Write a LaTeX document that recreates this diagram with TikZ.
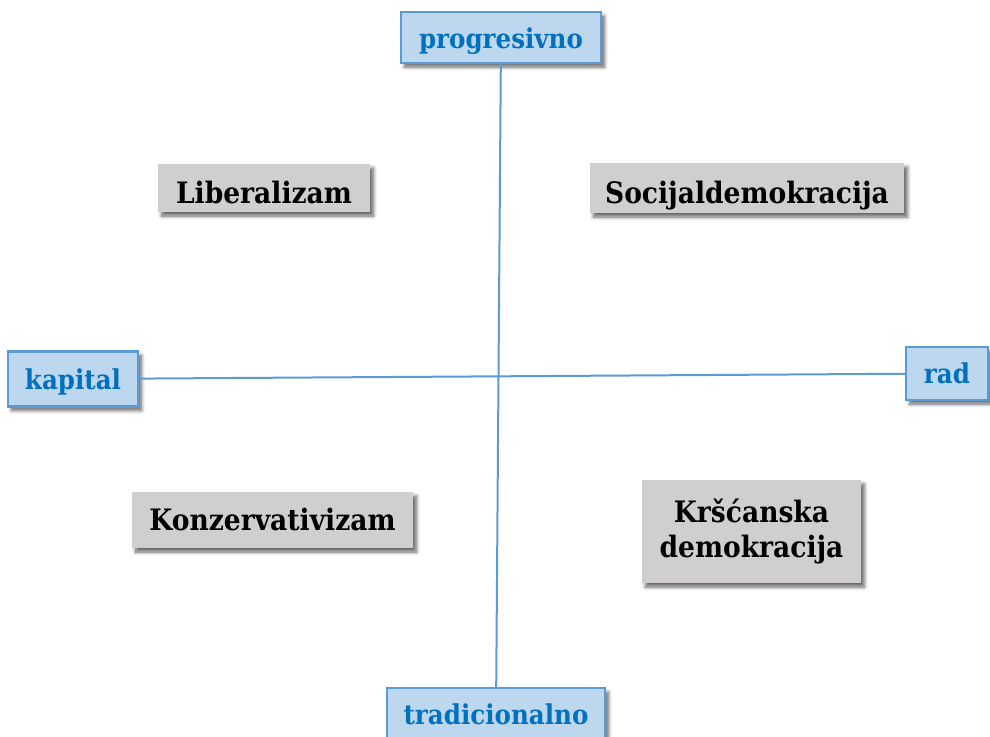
\documentclass[tikz,border=0pt]{standalone}
\usepackage{fontspec}
\setmainfont{DejaVu Serif Condensed}
\usetikzlibrary{shadows.blur}
\definecolor{axisblue}{HTML}{5B9BD5}
\definecolor{boxblue}{HTML}{BDD7EE}
\definecolor{textblue}{HTML}{0070C0}
\definecolor{boxgray}{HTML}{D0CECE}
\tikzset{
  myshadow/.style={blur shadow={shadow xshift=3.5pt, shadow yshift=-4pt, shadow blur radius=3.5pt, shadow blur steps=8, shadow opacity=60}},
  axisbox/.style={draw=axisblue, line width=2.2pt, fill=boxblue, text=textblue,
    font=\fontsize{27.3}{32}\selectfont\bfseries, inner sep=0pt, outer sep=0pt,
    text height=21pt, text depth=0pt, myshadow},
  ideabox/.style={fill=boxgray, text=black, align=center,
    font=\fontsize{29.5}{35}\selectfont\bfseries, inner sep=0pt, outer sep=0pt, myshadow},
  axisline/.style={draw=axisblue, line width=2pt}
}
\begin{document}
\begin{tikzpicture}[x=1pt,y=-1pt]
\useasboundingbox (0,0) rectangle (990,736);
% axis boxes
\node[axisbox, minimum width=200pt, minimum height=51pt] (prog) at (501,37.5) {progresivno};
\node[axisbox, minimum width=218pt, minimum height=52pt] (trad) at (496,714) {tradicionalno};
\node[axisbox, minimum width=130pt, minimum height=55pt] (kap) at (73,379) {kapital};
\node[axisbox, minimum width=82pt, minimum height=53pt, text height=19pt] (rad) at (947,373.5) {rad};
% idea boxes
\node[ideabox, minimum width=212pt, minimum height=48pt, text height=30pt, text depth=0pt] (lib) at (264,188) {Liberalizam};
\node[ideabox, minimum width=314pt, minimum height=50pt, text height=30pt, text depth=0pt] (soc) at (747,188) {Socijaldemokracija};
\node[ideabox, minimum width=281pt, minimum height=56pt, text height=20pt, text depth=0pt] (kon) at (272.5,520) {Konzervativizam};
\node[ideabox, minimum width=219pt, minimum height=103pt] (krs) at (751.5,531.5) {Kršćanska\\demokracija};
% axes
\draw[axisline] (prog) -- (trad);
\draw[axisline] (kap) -- (rad);
\end{tikzpicture}
\end{document}
